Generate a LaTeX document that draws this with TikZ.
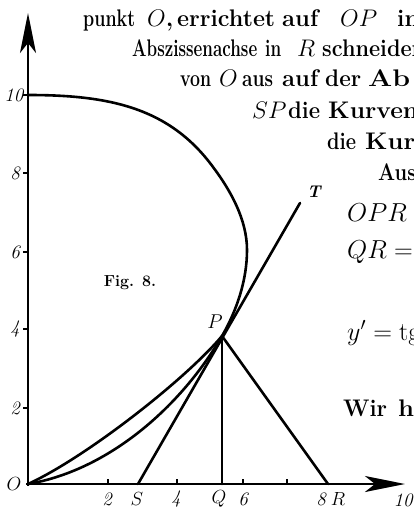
\RequirePackage{fix-cm}
\documentclass[tikz,border=0pt]{standalone}
\usetikzlibrary{arrows.meta}
\newcommand\fw[3]{\setbox0=\hbox{#3}\pgfmathsetmacro\myscx{#2/\the\wd0}\makebox[#1pt][l]{\scalebox{\myscx}[1]{\box0}}}
\newcommand\mw[2]{\makebox[#1pt][l]{#2}}
\tikzset{
  axis/.style={line width=2.8pt,-{Stealth[length=40pt,width=16pt,inset=10pt]}},
  curve/.style={line width=2.6pt,line cap=round,line join=round},
  tick/.style={line width=1.2pt},
  body/.style={anchor=base west,inner sep=0pt,font=\fontsize{24}{28}\selectfont\bfseries},
  num/.style={inner sep=0pt,font=\fontsize{19}{22}\selectfont\itshape},
  lab/.style={inner sep=0pt,font=\fontsize{19}{22}\selectfont}
}
\begin{document}
\begin{tikzpicture}[x=1pt,y=-1pt]
\useasboundingbox (0,0) rectangle (414,508);
\fill[white] (0,0) rectangle (414,508);
\clip (0,0) rectangle (414,508);
\coordinate (O) at (28,484);
\coordinate (P) at (222,336);
\coordinate (Q) at (222,484);
\coordinate (S) at (138,484);
\coordinate (R) at (328,484);
\coordinate (T) at (300,203);
\coordinate (A) at (28,95);
\coordinate (B) at (213,167);
\coordinate (C) at (247,250);
\coordinate (Ytip) at (28,13);
\coordinate (Xtip) at (405,484);
\coordinate (Ybase) at (28,486);
\coordinate (Xbase) at (26,484);
% axes
\draw[axis] (Ybase) -- (Ytip);
\draw[axis] (Xbase) -- (Xtip);
\foreach \y in {95,173,252,329,408} \draw[tick] (28,\y) -- (23,\y);
\foreach \x in {108,177,243,287} \draw[tick] (\x,484) -- (\x,479);
% main curve through P down to O
\draw[curve] (A) .. controls (108,95) and (169,107) .. (B)
  .. controls (231,191) and (247,220) .. (C)
  .. controls (247,280) and (237,310) .. (P)
  .. controls (182,405) and (110,470) .. (O);
% second curve O-P
\draw[curve] (O) .. controls (85,458) and (185,380) .. (P);
% tangent, normal, ordinate
\draw[curve] (S) -- (T);
\draw[curve] (P) -- (R);
\draw[curve] (P) -- (Q);
% axis labels
\node[num] (y10) at (14,95) {10};
\node[num] (y8) at (15,173) {8};
\node[num] (y6) at (15,252) {6};
\node[num] (y4) at (15,329) {4};
\node[num] (y2) at (15,408) {2};
\node[lab] (lO) at (14,484) {$O$};
\node[num] (x2) at (107,499) {2};
\node[lab] (lS) at (137,499) {$S$};
\node[num] (x4) at (176,499) {4};
\node[lab] (lQ) at (219,499) {$Q$};
\node[num] (x6) at (243,499) {6};
\node[num] (x8) at (321,499) {8};
\node[lab] (lR) at (338,499) {$R$};
\node[num] (x10) at (403,500) {10};
\node[inner sep=0pt,font=\fontsize{20}{22}\selectfont] (lP) at (215,322) {$P$};
\node[inner sep=0pt,font=\fontsize{17}{20}\selectfont\bfseries\itshape] (lT) at (314,192) {T};
\node[inner sep=0pt,font=\fontsize{16}{18}\selectfont\bfseries] (fig) at (130,283) {Fig. 8.};
% body text
\node[body] (t1) at (83,27) {\fw{64}{52}{punkt}\mw{30}{$O$,}\fw{105}{98}{errichtet}\fw{58}{36}{auf}\mw{57}{$OP$}\fw{22}{22}{in}};
\node[body] (t2) at (132,57) {\fw{133}{125}{Abszissenachse}\fw{32}{16}{in}\mw{25}{$R$}\fw{103}{103}{schneiden}};
\node[body] (t3) at (180,87) {\fw{39}{31}{von}\mw{23}{$O$}\fw{40}{31}{aus}\fw{43}{36}{auf}\fw{43}{36}{der}\fw{42}{42}{Ab}};
\node[body] (t4) at (252,118) {\mw{36}{$SP$}\fw{40}{32}{die}\fw{90}{90}{Kurven}};
\node[body] (t5) at (327,149) {\fw{38}{29}{die}\fw{50}{50}{Kur}};
\node[body] (t6) at (378,180) {\fw{38}{38}{Aus}};
\node[body,font=\fontsize{26}{30}\selectfont] (t7) at (347,221) {$OPR$};
\node[body,font=\fontsize{26}{30}\selectfont] (t8) at (347,258) {$QR=$};
\node[body,font=\fontsize{26}{30}\selectfont] (t9) at (347,340) {$y'=\mathrm{tg}$};
\node[body] (t10) at (343,416) {\fw{55}{44}{Wir}\fw{20}{16}{h}};
\end{tikzpicture}
\end{document}
